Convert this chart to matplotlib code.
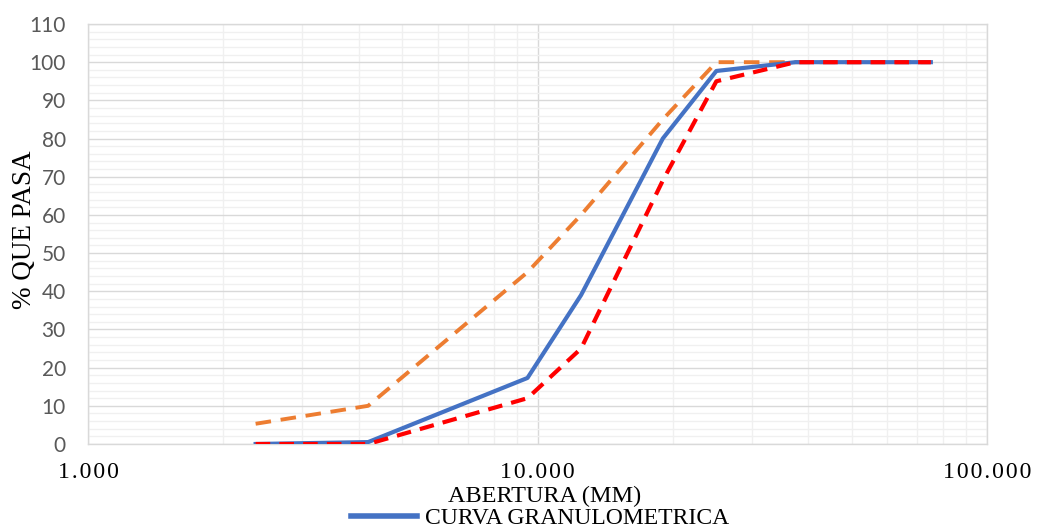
import matplotlib
matplotlib.use('Agg')
import matplotlib.pyplot as plt
from matplotlib.ticker import FixedLocator, MultipleLocator, NullFormatter

# aberturas (mm) y % que pasa
abertura = [2.36, 4.2, 9.5, 12.5, 19.0, 25.0, 37.5, 75.0]
curva = [0, 0.5, 17.3, 39, 80, 97.7, 100, 100]
lim_sup = [5.3, 10, 45, 60, 85, 100, 100, 100]
lim_inf = [0, 0, 12, 25, 69, 95, 100, 100]

x_ticks = [1, 10, 100]
x_ticklabels = ['1.000', '10.000', '100.000']

serif = 'Liberation Serif'
hs = '\u200a'

fig = plt.figure(figsize=(10.37, 5.31), dpi=100)
ax = fig.add_axes([88/1037, 1-444/531, (987-88)/1037, (444-24)/531])

ax.set_xscale('log')
ax.set_xlim(1, 100)
ax.set_ylim(0, 110)

ax.plot(abertura, lim_sup, color='#ED7D31', lw=2.8, ls=(0, (4, 2.5)), zorder=3)
ax.plot(abertura, curva, color='#4472C4', lw=3.0, zorder=4,
        label='CURVA GRANULOMETRICA')
ax.plot(abertura, lim_inf, color='#FF0000', lw=3.0, ls=(0, (3.5, 2.2)), zorder=5)

# rejilla
ax.yaxis.set_major_locator(MultipleLocator(10))
ax.yaxis.set_minor_locator(MultipleLocator(2))
ax.xaxis.set_major_locator(FixedLocator(x_ticks))
ax.xaxis.set_minor_locator(FixedLocator([m * d for d in (1, 10) for m in range(2, 10)]))
ax.xaxis.set_minor_formatter(NullFormatter())
ax.grid(which='minor', color='#f0f0f0', lw=1.0, zorder=0)
ax.grid(which='major', color='#d9d9d9', lw=1.0, zorder=1)
ax.set_axisbelow(True)
for s in ax.spines.values():
    s.set_color('#d9d9d9')
    s.set_linewidth(1.0)

ax.tick_params(which='both', length=0)
ax.tick_params(axis='y', labelsize=15, labelcolor='#595959', pad=16)
ax.set_yticks(range(0, 111, 10))
ax.set_yticklabels([str(v) for v in range(0, 111, 10)], family='Lato')
ax.set_xticklabels([hs.join(t) for t in x_ticklabels], family=serif, fontsize=17)
ax.tick_params(axis='x', pad=13)

fig.text(545/1037, 1-496/531, 'ABERTURA (MM)', family=serif, fontsize=17.5,
         ha='center', va='center')
fig.text(25/1037, 1-230/531, '% QUE PASA', family=serif, fontsize=19.5,
         ha='center', va='center', rotation=90)

leg = fig.legend(handles=ax.lines[1:2], loc='center', bbox_to_anchor=(540/1037, 1-518/531),
                 frameon=False, prop={'family': serif, 'size': 17},
                 handlelength=2.8, handletextpad=0.3)
leg.get_lines()[0].set_linewidth(4)

fig.savefig('out.png', dpi=100)
